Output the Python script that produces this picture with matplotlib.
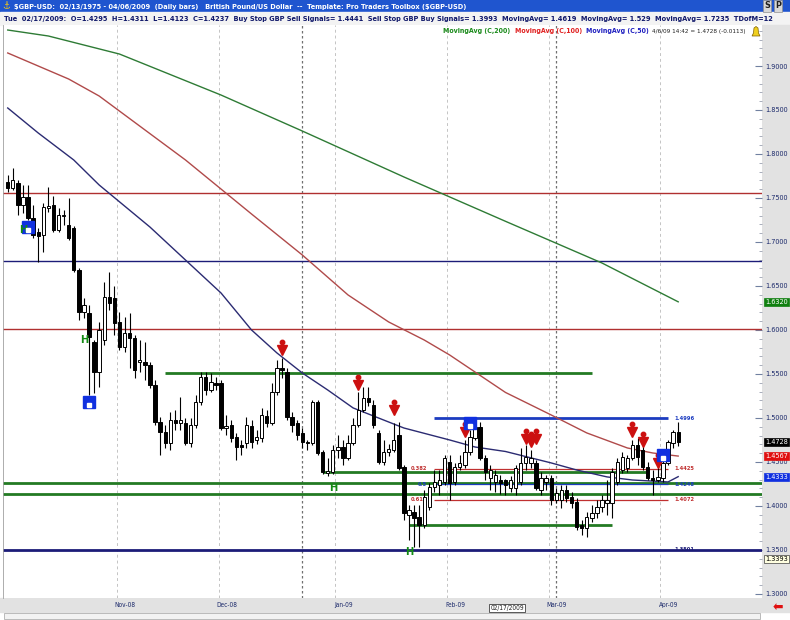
import matplotlib
import matplotlib.pyplot as plt
from matplotlib import font_manager as fm
from matplotlib.patches import Rectangle, Polygon
from matplotlib.ticker import MultipleLocator
import numpy as np
import pandas as pd

plt.switch_backend('agg')

# pick a narrow face if one is installed (the chart uses an Arial Narrow look)
narrow, stretch = 'Liberation Sans', 'normal'
for f in fm.fontManager.ttflist:
    if 'Narrow' in f.name or 'Condensed' in f.name:
        narrow = f.name
        break
    if f.stretch in ('condensed', 'semi-condensed', 'extra-condensed') and \
            f.name in ('DejaVu Sans', 'Noto Sans', 'Roboto', 'Open Sans', 'Liberation Sans'):
        narrow, stretch = f.name, f.stretch
        break
plt.rcParams['font.family'] = [narrow, 'DejaVu Sans']
plt.rcParams['font.stretch'] = stretch

# daily bars, GBP/USD, 02 Oct 2008 .. 06 Apr 2009
dates = pd.bdate_range('2008-10-02', '2009-04-06')

opens = [1.7682,1.7614,1.7670,1.7420,1.7511,1.7273,1.7114,1.7080,1.7386,1.7420,
         1.7136,1.7295,1.7193,1.7159,1.6682,1.6205,1.6193,1.5864,1.5523,1.5886,
         1.6375,1.6364,1.6091,1.5807,1.5966,1.5909,1.5636,1.5636,1.5602,1.5375,
         1.4955,1.4841,1.4716,1.4977,1.4943,1.4943,1.4716,1.4920,1.5182,1.5466,
         1.5318,1.5398,1.5398,1.4886,1.4920,1.4784,1.4693,1.4716,1.4909,1.4750,
         1.4773,1.5023,1.4943,1.5295,1.5568,1.5523,1.5011,1.4943,1.4830,1.4727,
         1.4716,1.5182,1.4614,1.4375,1.4386,1.4636,1.4670,1.4545,1.4716,1.4920,
         1.5091,1.5227,1.5148,1.4830,1.4500,1.4614,1.4636,1.4807,1.4443,1.3898,
         1.3932,1.3875,1.3784,1.3989,1.4216,1.4239,1.4273,1.4500,1.4273,1.4443,
         1.4466,1.4614,1.4773,1.4898,1.4545,1.4318,1.4273,1.4295,1.4295,1.4205,
         1.4205,1.4273,1.4489,1.4489,1.4489,1.4182,1.4273,1.4318,1.4068,1.4068,
         1.4182,1.4102,1.4045,1.3784,1.3750,1.3864,1.3920,1.3989,1.4034,1.4034,
         1.4273,1.4409,1.4432,1.4545,1.4693,1.4636,1.4443,1.4318,1.4295,1.4318,
         1.4489,1.4716,1.4841]
highs = [1.7761,1.7841,1.7705,1.7648,1.7648,1.7420,1.7159,1.7443,1.7625,1.7523,
         1.7386,1.7364,1.7500,1.7182,1.6705,1.6364,1.6284,1.5886,1.6091,1.6545,
         1.6659,1.6500,1.6205,1.6148,1.6193,1.5943,1.5886,1.5864,1.5636,1.5432,
         1.5011,1.4920,1.5068,1.5091,1.5239,1.5000,1.5000,1.5261,1.5523,1.5523,
         1.5511,1.5466,1.5432,1.5034,1.4977,1.4830,1.4750,1.5011,1.4977,1.4864,
         1.5114,1.5091,1.5398,1.5659,1.5682,1.5568,1.5068,1.4977,1.4886,1.4750,
         1.5205,1.5205,1.4636,1.4545,1.4693,1.4807,1.4750,1.4807,1.5000,1.5295,
         1.5352,1.5352,1.5205,1.4864,1.4750,1.4705,1.4943,1.4955,1.4466,1.4011,
         1.4011,1.4011,1.4182,1.4261,1.4409,1.4409,1.4580,1.4580,1.4489,1.4580,
         1.4750,1.4864,1.5000,1.4955,1.4580,1.4466,1.4409,1.4352,1.4311,1.4341,
         1.4466,1.4659,1.4693,1.4636,1.4523,1.4386,1.4352,1.4352,1.4205,1.4239,
         1.4239,1.4159,1.4091,1.3841,1.3932,1.4011,1.4068,1.4125,1.4295,1.4432,
         1.4545,1.4614,1.4580,1.4750,1.4773,1.4693,1.4500,1.4409,1.4466,1.4545,
         1.4750,1.4864,1.4955]
lows = [1.7568,1.7591,1.7307,1.7330,1.7250,1.7045,1.6773,1.6886,1.7341,1.7114,
        1.7114,1.7193,1.7023,1.6659,1.6114,1.6136,1.5261,1.5284,1.5352,1.5830,
        1.6227,1.5943,1.5773,1.5750,1.5568,1.5455,1.5523,1.5432,1.5341,1.4920,
        1.4580,1.4659,1.4636,1.4864,1.4864,1.4693,1.4670,1.4886,1.5148,1.5261,
        1.5295,1.5318,1.4864,1.4807,1.4727,1.4523,1.4580,1.4659,1.4659,1.4705,
        1.4727,1.4898,1.4920,1.5261,1.5455,1.4977,1.4841,1.4750,1.4659,1.4636,
        1.4693,1.4580,1.4364,1.4341,1.4364,1.4545,1.4466,1.4523,1.4693,1.4898,
        1.5068,1.5136,1.4886,1.4477,1.4466,1.4568,1.4614,1.4409,1.3841,1.3614,
        1.3534,1.3534,1.3750,1.3955,1.4159,1.4125,1.4239,1.4068,1.4239,1.4409,
        1.4432,1.4580,1.4750,1.4523,1.4295,1.4182,1.4159,1.4136,1.4123,1.4159,
        1.4125,1.4239,1.4409,1.4432,1.4182,1.4125,1.4182,1.4011,1.4034,1.3977,
        1.4045,1.3977,1.3727,1.3670,1.3648,1.3818,1.3864,1.3932,1.3898,1.3864,
        1.4239,1.4375,1.4386,1.4523,1.4466,1.4409,1.4295,1.4125,1.4273,1.4273,
        1.4466,1.4659,1.4682]
closes = [1.7614,1.7705,1.7420,1.7511,1.7273,1.7080,1.7068,1.7398,1.7409,1.7136,
          1.7307,1.7307,1.7045,1.6682,1.6205,1.6284,1.5920,1.5523,1.6000,1.6375,
          1.6307,1.6080,1.5807,1.5966,1.5909,1.5545,1.5659,1.5602,1.5375,1.4955,
          1.4841,1.4716,1.4977,1.4943,1.4977,1.4716,1.4920,1.5182,1.5466,1.5318,
          1.5409,1.5375,1.4886,1.4909,1.4773,1.4670,1.4670,1.4920,1.4727,1.4784,
          1.5034,1.4943,1.5295,1.5568,1.5545,1.5011,1.4920,1.4807,1.4727,1.4716,
          1.5182,1.4602,1.4386,1.4398,1.4636,1.4670,1.4545,1.4716,1.4920,1.5091,
          1.5227,1.5182,1.4920,1.4500,1.4614,1.4648,1.4750,1.4432,1.3920,1.3955,
          1.3864,1.3784,1.4102,1.4216,1.4273,1.4295,1.4545,1.4261,1.4443,1.4489,
          1.4614,1.4784,1.4898,1.4545,1.4386,1.4409,1.4352,1.4261,1.4237,1.4295,
          1.4432,1.4489,1.4557,1.4545,1.4205,1.4318,1.4318,1.4068,1.4148,1.4182,
          1.4091,1.4034,1.3761,1.3750,1.3875,1.3920,1.3989,1.4068,1.4068,1.4386,
          1.4500,1.4557,1.4545,1.4693,1.4557,1.4443,1.4318,1.4295,1.4330,1.4489,
          1.4727,1.4841,1.4728]

# moving averages at a few bars
ma200_idx = [0, 8, 22, 42, 58, 78, 98, 117, 132]
ma200_val = [1.9409, 1.9341, 1.9136, 1.8670, 1.8261, 1.7739, 1.7235, 1.6761, 1.6320]
ma100_idx = [0, 6, 12, 18, 35, 48, 58, 67, 75, 82, 87, 98, 107, 114, 122, 127, 132]
ma100_val = [1.9148, 1.9000, 1.8852, 1.8659, 1.7932, 1.7318, 1.6852, 1.6398, 1.6091,
             1.5886, 1.5716, 1.5290, 1.5034, 1.4830, 1.4659, 1.4602, 1.4567]
ma50_idx = [0, 6, 13, 18, 28, 35, 42, 48, 53, 58, 63, 68, 74, 78, 87, 92, 98, 107,
            112, 118, 123, 130, 132]
ma50_val = [1.8523, 1.8239, 1.7932, 1.7648, 1.7170, 1.6795, 1.6420, 1.6000, 1.5739,
            1.5511, 1.5318, 1.5114, 1.4977, 1.4886, 1.4750, 1.4670, 1.4619, 1.4489,
            1.4409, 1.4330, 1.4295, 1.4273, 1.4333]

# horizontal levels
full_levels = [1.7557, 1.6784, 1.6010, 1.4261, 1.4136, 1.3501]
full_colors = ['#b03030', '#1c1c78', '#b03030', '#237a23', '#237a23', '#1c1c78']
full_widths = [1.0, 1.0, 1.0, 2.0, 2.0, 2.0]
seg_levels = [1.5511, 1.4386, 1.3784]
seg_start = [31, 62, 79]
seg_end = [115, 126, 119]
fib_values = [1.4996, 1.4425, 1.4248, 1.4072]
fib_names = ['', '0.382', '0.5', '0.618']
fib_colors = ['#1c3cc0', '#c03030', '#1c3cc0', '#c03030']
fib_start, fib_end = 84, 130

# signal markers
arrow_idx = [54, 69, 76, 90, 102, 103, 104, 123, 125, 128]
arrow_tip = [1.5716, 1.5318, 1.5034, 1.4784, 1.4705, 1.4670, 1.4705, 1.4784, 1.4670, 1.4432]
blue_idx = [4, 16, 91, 129]
blue_val = [1.7170, 1.5182, 1.4943, 1.4580]
green_idx = [3, 15, 64, 79]
green_val = [1.7136, 1.5886, 1.4205, 1.3477]

month_labels = ['Nov-08', 'Dec-08', 'Jan-09', 'Feb-09', 'Mar-09', 'Apr-09']

W, H = 790, 620
def fx(px):
    return px / W
def fy(py):
    return 1 - py / H

fig = plt.figure(figsize=(7.9, 6.2), dpi=100)
renderer = fig.canvas.get_renderer()

def fit(t, width_px):
    # scale a text so that it spans width_px pixels
    w = t.get_window_extent(renderer).width
    t.set_fontsize(t.get_fontsize() * width_px / w)
    return t

def size_for(sample, width_px, **kw):
    t = fig.text(0, 0, sample, fontsize=10, **kw)
    s = 10 * width_px / t.get_window_extent(renderer).width
    t.remove()
    return s

# window chrome
fig.add_artist(Rectangle((0, fy(12)), 1, 12 / H, transform=fig.transFigure, color='#1f55cf', zorder=0))
fig.add_artist(Rectangle((0, fy(25)), 1, 13 / H, transform=fig.transFigure, color='#f3f3f3', zorder=0))
fig.add_artist(Rectangle((fx(762), fy(598)), 28 / W, 573 / H, transform=fig.transFigure, color='#e2e2e2', zorder=0))
fig.add_artist(Rectangle((0, fy(612)), 1, 14 / H, transform=fig.transFigure, color='#e2e2e2', zorder=0))
fig.add_artist(Rectangle((fx(4), fy(619)), 756 / W, 6 / H, transform=fig.transFigure,
                         facecolor='#f2f2f2', edgecolor='#b0b0b0', lw=0.6, zorder=0))

fig.text(fx(2), fy(6), '⚓', color='#e8c020', fontsize=7, va='center', family=['DejaVu Sans'])
t = fig.text(fx(14), fy(6.5), r'\$GBP-USD:  02/13/1975 - 04/06/2009  (Daily bars)   British Pound/US Dollar  --  '
             r'Template: Pro Traders Toolbox (\$GBP-USD)', color='white', fontsize=8, va='center', fontweight='bold')
fit(t, 453)
for k, s in enumerate(['S', 'P']):
    fig.text(fx(767 + k * 11), fy(6), s, color='#202020', fontsize=6.5, va='center', ha='center', fontweight='bold',
             bbox=dict(boxstyle='square,pad=0.15', fc='#d8d8d8', ec='#909090', lw=0.5))
t = fig.text(fx(4), fy(18.5), 'Tue  02/17/2009:  O=1.4295  H=1.4311  L=1.4123  C=1.4237  Buy Stop GBP Sell Signals= 1.4441  '
             'Sell Stop GBP Buy Signals= 1.3993  MovingAvg= 1.4619  MovingAvg= 1.529  MovingAvg= 1.7235  TDofM=12',
             color='#10186a', fontsize=8, va='center', fontweight='bold')
fit(t, 772)

ax = fig.add_axes([fx(3), fy(598), 759 / W, 573 / H])
x = np.arange(len(dates))
o = np.array(opens); h = np.array(highs); l = np.array(lows); c = np.array(closes)

# month grid
month_start = [i for i in range(1, len(dates)) if dates[i].month != dates[i - 1].month]
for i in month_start:
    ax.axvline(i - 0.5, color='#c4c4c4', ls=(0, (3, 3)), lw=0.7, zorder=1)
for d in ['2008-12-23', '2009-03-03']:
    ax.axvline(dates.get_loc(pd.Timestamp(d)), color='#707070', ls=(0, (2, 2)), lw=0.9, zorder=1)

lab = size_for('1.4996', 20, fontweight='bold')
# levels
for v, col, lw in zip(full_levels, full_colors, full_widths):
    ax.axhline(v, color=col, lw=lw, zorder=2)
for v, a, b in zip(seg_levels, seg_start, seg_end):
    ax.hlines(v, a, b, color='#237a23', lw=2.0, zorder=2)
for v, name, col in zip(fib_values, fib_names, fib_colors):
    ax.hlines(v, fib_start, fib_end, color=col, lw=2.0 if name == '' else 0.9, zorder=2)
    if name:
        ax.text(fib_start - 1.5, v, name, color=col, fontsize=lab, fontweight='bold', ha='right', va='center')
    ax.text(fib_end + 1.2, v, f'{v:.4f}', color=col, fontsize=lab, fontweight='bold', ha='left', va='center')
ax.text(fib_end + 1.2, full_levels[-1], f'{full_levels[-1]:.4f}', color='#1c1c78', fontsize=lab,
        fontweight='bold', ha='left', va='center')

# moving averages
ax.plot(ma200_idx, ma200_val, color='#2e7b35', lw=1.0, zorder=3)
ax.plot(ma100_idx, ma100_val, color='#b04a4a', lw=1.0, zorder=3)
ax.plot(ma50_idx, ma50_val, color='#2b2b72', lw=1.0, zorder=3)

# candles
up = c >= o
ax.vlines(x, l, h, color='black', lw=0.8, zorder=4)
body_lo = np.minimum(o, c)
body_h = np.maximum(np.abs(c - o), 0.0008)
ax.bar(x[up], body_h[up], bottom=body_lo[up], width=0.66, color='white', edgecolor='black', lw=0.7, zorder=5)
ax.bar(x[~up], body_h[~up], bottom=body_lo[~up], width=0.66, color='black', edgecolor='black', lw=0.7, zorder=5)

# signals
ax.plot(arrow_idx, np.array(arrow_tip) + 0.0058, 'v', ms=7.5, color='#cc1010', mec='#cc1010', zorder=6)
ax.plot(arrow_idx, np.array(arrow_tip) + 0.0145, 'o', ms=3.2, color='#cc1010', zorder=6)
ax.plot(blue_idx, blue_val, 's', ms=8, color='#1030e0', zorder=6)
ax.plot(blue_idx, np.array(blue_val) - 0.0030, 's', ms=2.5, color='white', zorder=7)
for i, v in zip(green_idx, green_val):
    ax.text(i, v, 'H', color='#138a13', fontsize=8, fontweight='bold', ha='center', va='center', zorder=6)

# MA legend line
for txt, col, x0, wpx in [('MovingAvg (C,200)', '#1a8a1a', 443, 68), ('MovingAvg (C,100)', '#e02020', 515, 68),
                          ('MovingAvg (C,50)', '#2020c0', 586, 63)]:
    fit(fig.text(fx(x0), fy(31), txt, color=col, fontsize=7, fontweight='bold', va='center'), wpx)
fit(fig.text(fx(652), fy(31), '4/6/09 14:42 = 1.4728 (-0.0113)', color='#202020', fontsize=6, va='center'), 94)
fig.add_artist(Polygon([[fx(752), fy(36)], [fx(760), fy(36)], [fx(758.5), fy(33)], [fx(758), fy(28)],
                        [fx(756), fy(26.5)], [fx(754), fy(28)], [fx(753.5), fy(33)]],
                       closed=True, transform=fig.transFigure, fc='#f0d020', ec='#806000', lw=0.5))

ax.set_xlim(-0.93, 148.5)
ax.set_ylim(1.2954, 1.9466)

ticksize = size_for('1.9000', 23)
ax.yaxis.tick_right()
ax.set_yticks(np.arange(1.30, 1.9001, 0.05))
ax.set_yticklabels([f'{v:.4f}' for v in np.arange(1.30, 1.9001, 0.05)])
ax.yaxis.set_minor_locator(MultipleLocator(0.01))
ax.tick_params(axis='y', which='major', direction='in', length=5, color='#7080a0', labelsize=ticksize,
               labelcolor='#1c2a6b', pad=2)
ax.tick_params(axis='y', which='minor', direction='in', length=2.5, color='#9aa0b0')
ax.set_xticks([i + 1.1 for i in month_start])
ax.set_xticklabels(month_labels)
ax.tick_params(axis='x', length=0, labelsize=size_for('Nov-08', 21), labelcolor='#1c2a6b', pad=3)
for side in ['top', 'right', 'bottom']:
    ax.spines[side].set_visible(False)
ax.spines['left'].set_color('#a0a0a0')
ax.spines['left'].set_linewidth(0.6)

# value tags on the price axis
tags = [(1.6320, '#108010', 'white'), (1.4728, 'black', 'white'), (1.4567, '#e01010', 'white'),
        (1.4333, '#1030e0', 'white'), (1.3393, '#ffffe0', 'black')]
for v, bg, fg in tags:
    ax.text(1.004, v, f'{v:.4f}', transform=ax.get_yaxis_transform(), color=fg, fontsize=ticksize,
            ha='left', va='center', bbox=dict(boxstyle='square,pad=0.12', fc=bg, ec='#404040' if fg == 'black' else bg, lw=0.5),
            zorder=8, clip_on=False)

# cursor date box
ax.text(dates.get_loc(pd.Timestamp('2009-02-17')) + 0.3, -0.012, '02/17/2009', transform=ax.get_xaxis_transform(),
        fontsize=size_for('02/17/2009', 34), color='#202020', ha='center', va='top',
        bbox=dict(boxstyle='square,pad=0.2', fc='white', ec='#404040', lw=0.6), clip_on=False)
fig.text(fx(778), fy(607), '⬅', color='#e01010', fontsize=10, ha='center', va='center', family=['DejaVu Sans'])

fig.savefig('out.png', dpi=100)
